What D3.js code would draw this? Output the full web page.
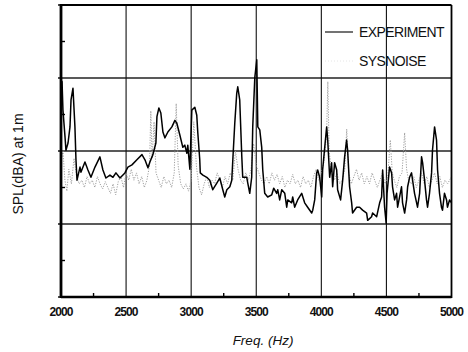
<!DOCTYPE html>
<html>
<head>
<meta charset="utf-8">
<script src="https://cdn.jsdelivr.net/npm/d3@7"></script>
<style>
  html, body { margin: 0; padding: 0; background: #fff; }
  svg { display: block; }
  text { font-family: "Liberation Sans", Arial, sans-serif; fill: #111; }
</style>
</head>
<body>
<div id="chart"></div>
<script>
// frequency ticks (Hz)
const xTicks = [2000, 2500, 3000, 3500, 4000, 4500, 5000];
const xMinorTicks = [2250, 2750, 3250, 3750, 4250, 4750];
// SPL levels (dBA) - the original has no labels on this axis
const yTicks = [20, 30, 40, 50, 60];
const yMinorTicks = [25, 35, 45, 55];

const seriesNames = ['EXPERIMENT', 'SYSNOISE'];

// measured spectrum [freq, dBA]
const experiment = [
  [2000, 49.7], [2008, 49.5], [2015, 45.6], [2031, 41.9], [2038, 40.1], [2054, 41.1],
  [2069, 43.3], [2077, 47.0], [2092, 48.6], [2107, 43.3], [2115, 38.8], [2123, 36.0],
  [2146, 37.8], [2153, 37.1], [2184, 38.5], [2207, 37.4], [2230, 36.4], [2261, 37.8],
  [2299, 39.2], [2322, 37.4], [2345, 36.3], [2376, 36.7], [2399, 36.4], [2422, 37.0],
  [2453, 36.3], [2491, 37.0], [2514, 37.8], [2545, 38.1], [2583, 38.8], [2622, 39.5],
  [2645, 38.8], [2668, 37.7], [2683, 38.5], [2706, 39.5], [2729, 41.1], [2737, 44.7],
  [2752, 45.9], [2767, 45.2], [2783, 42.6], [2798, 41.8], [2821, 42.6], [2852, 43.3],
  [2875, 44.2], [2890, 43.8], [2913, 42.2], [2936, 40.5], [2951, 40.8], [2967, 39.7],
  [2974, 40.8], [2990, 37.5], [3005, 45.6], [3028, 46.0], [3043, 44.9], [3051, 42.5],
  [3066, 38.8], [3070, 37.0], [3090, 36.7], [3120, 36.4], [3143, 36.0], [3166, 34.7],
  [3197, 35.6], [3220, 36.3], [3243, 34.7], [3258, 33.7], [3274, 34.7], [3297, 35.1],
  [3312, 36.0], [3320, 38.8], [3335, 43.8], [3350, 47.9], [3358, 48.8], [3373, 47.0],
  [3389, 39.2], [3396, 36.4], [3427, 36.4], [3435, 35.6], [3450, 34.2], [3465, 36.4],
  [3473, 43.3], [3489, 50.1], [3504, 52.5], [3512, 43.3], [3527, 42.9], [3542, 40.5],
  [3550, 37.4], [3565, 34.2], [3588, 33.7], [3619, 34.0], [3634, 34.9], [3657, 34.2],
  [3665, 34.7], [3680, 33.3], [3696, 34.7], [3719, 34.2], [3734, 32.3], [3742, 33.3],
  [3772, 32.9], [3780, 33.7], [3795, 32.3], [3818, 33.3], [3849, 34.2], [3872, 32.9],
  [3895, 32.3], [3926, 31.5], [3934, 31.9], [3949, 33.3], [3964, 37.0], [3972, 37.4],
  [3987, 36.4], [4003, 33.7], [4010, 37.4], [4026, 40.5], [4041, 43.3], [4049, 41.5],
  [4064, 36.4], [4079, 38.4], [4087, 35.1], [4102, 38.4], [4118, 37.4], [4125, 34.7],
  [4148, 33.3], [4164, 36.0], [4179, 39.2], [4194, 41.5], [4202, 40.1], [4217, 35.1],
  [4233, 32.9], [4240, 31.5], [4271, 32.3], [4294, 32.3], [4317, 31.9], [4348, 31.5],
  [4356, 30.5], [4386, 31.0], [4394, 31.5], [4425, 31.0], [4448, 32.9], [4463, 33.7],
  [4471, 37.4], [4486, 32.3], [4498, 30.1], [4505, 34.2], [4524, 37.8], [4540, 37.0],
  [4547, 35.1], [4563, 33.3], [4578, 34.2], [4586, 32.3], [4616, 35.1], [4624, 32.9],
  [4640, 31.5], [4655, 33.3], [4663, 35.1], [4678, 36.4], [4693, 37.0], [4701, 36.0],
  [4716, 34.2], [4732, 32.9], [4739, 32.3], [4755, 34.2], [4770, 39.2], [4778, 38.4],
  [4793, 36.0], [4808, 33.3], [4816, 32.3], [4831, 34.2], [4847, 37.0], [4854, 40.1],
  [4870, 43.3], [4885, 41.5], [4893, 37.4], [4908, 34.2], [4923, 32.3], [4931, 31.9],
  [4946, 34.2], [4962, 33.3], [4969, 32.3], [4985, 33.3], [5000, 32.9]
];

// predicted spectrum [freq, dBA]
const sysnoise = [
  [2000, 38.5], [2015, 40.0], [2030, 36.0], [2045, 34.5], [2060, 37.5], [2080, 35.5],
  [2100, 39.0], [2120, 36.5], [2140, 35.5], [2160, 36.0], [2180, 35.0], [2200, 36.5],
  [2220, 35.5], [2240, 36.0], [2260, 35.0], [2280, 36.5], [2300, 35.5], [2320, 34.8],
  [2340, 35.8], [2360, 35.0], [2380, 34.2], [2400, 35.5], [2420, 34.0], [2440, 35.8],
  [2460, 36.5], [2480, 35.0], [2500, 37.0], [2520, 36.0], [2540, 37.5], [2560, 36.0],
  [2580, 37.0], [2600, 35.5], [2620, 36.5], [2640, 35.0], [2660, 36.0], [2680, 38.0],
  [2690, 45.5], [2700, 39.0], [2715, 44.0], [2730, 37.0], [2750, 36.0], [2770, 35.0],
  [2790, 36.5], [2810, 35.5], [2830, 36.0], [2850, 35.0], [2870, 37.0], [2885, 46.5],
  [2900, 38.0], [2920, 35.5], [2940, 34.8], [2960, 35.5], [2980, 34.5], [3000, 36.0],
  [3020, 44.0], [3040, 38.0], [3060, 35.0], [3080, 34.0], [3100, 35.5], [3120, 36.5],
  [3140, 35.0], [3160, 36.0], [3180, 35.5], [3200, 37.0], [3220, 36.0], [3240, 35.0],
  [3260, 36.5], [3280, 35.5], [3300, 37.0], [3320, 36.0], [3340, 40.0], [3360, 37.5],
  [3380, 36.0], [3400, 35.5], [3420, 37.0], [3440, 36.0], [3460, 37.5], [3480, 41.0],
  [3500, 38.0], [3520, 37.0], [3540, 36.0], [3560, 35.5], [3580, 36.5], [3600, 35.5],
  [3620, 37.0], [3640, 36.0], [3660, 36.8], [3680, 35.5], [3700, 36.5], [3720, 35.0],
  [3740, 36.0], [3760, 35.5], [3780, 36.8], [3800, 35.5], [3820, 36.0], [3840, 35.0],
  [3860, 36.5], [3880, 35.5], [3900, 36.0], [3920, 35.0], [3940, 36.5], [3960, 37.5],
  [3980, 36.0], [4000, 37.0], [4020, 38.5], [4040, 42.0], [4050, 49.5], [4060, 40.0],
  [4080, 37.0], [4100, 36.0], [4120, 37.0], [4140, 35.5], [4160, 36.0], [4180, 37.5],
  [4195, 43.0], [4210, 37.0], [4230, 35.5], [4250, 36.5], [4270, 37.5], [4290, 36.0],
  [4310, 37.0], [4330, 35.5], [4350, 36.5], [4370, 35.5], [4390, 37.0], [4410, 36.0],
  [4430, 35.0], [4450, 36.0], [4470, 37.0], [4490, 35.5], [4510, 36.5], [4530, 41.5],
  [4545, 37.0], [4560, 36.0], [4580, 35.0], [4600, 36.5], [4620, 37.0], [4640, 42.5],
  [4655, 37.5], [4670, 36.0], [4690, 35.5], [4710, 36.5], [4730, 35.0], [4750, 36.0],
  [4770, 37.0], [4790, 35.5], [4810, 36.5], [4830, 35.0], [4850, 36.0], [4870, 37.0],
  [4890, 35.5], [4910, 36.5], [4930, 35.0], [4950, 36.0], [4970, 35.5], [5000, 36.5]
];

const width = 468, height = 352;
const margin = {top: 5, right: 16, bottom: 55, left: 61};

const svg = d3.select('#chart')
  .append('svg')
    .attr('width', width)
    .attr('height', height);

const x = d3.scaleLinear()
  .domain([2000, 5000])
  .range([margin.left, width - margin.right - 0.5]);

const y = d3.scaleLinear()
  .domain([20, 60])
  .range([height - margin.bottom, margin.top]);

// grid lines
svg.append('g')
  .attr('stroke', '#222')
  .attr('stroke-width', 1.4)
  .selectAll('line')
  .data(yTicks.slice(1, -1))
  .join('line')
    .attr('x1', x(2000)).attr('x2', x(5000))
    .attr('y1', d => y(d)).attr('y2', d => y(d));

svg.append('g')
  .attr('stroke', '#111')
  .attr('stroke-width', 1.1)
  .selectAll('line')
  .data(xTicks.slice(1, -1))
  .join('line')
    .attr('x1', d => x(d)).attr('x2', d => x(d))
    .attr('y1', y(20)).attr('y2', y(60));

const line = d3.line()
  .x(d => x(d[0]))
  .y(d => y(d[1]));

svg.append('path')
  .datum(sysnoise)
  .attr('fill', 'none')
  .attr('stroke', '#a0a0a0')
  .attr('stroke-width', 1)
  .attr('stroke-dasharray', '1.2,1.4')
  .attr('d', line);

svg.append('path')
  .datum(experiment)
  .attr('fill', 'none')
  .attr('stroke', '#000')
  .attr('stroke-width', 1.5)
  .attr('stroke-linejoin', 'round')
  .attr('d', line);

// frame
const frame = svg.append('g').attr('stroke', '#000').attr('fill', 'none');
frame.append('line')
  .attr('x1', x(2000)).attr('x2', x(2000))
  .attr('y1', y(60) - 1).attr('y2', y(20) + 1)
  .attr('stroke-width', 2.8);
frame.append('line')
  .attr('x1', x(2000)).attr('x2', x(5000))
  .attr('y1', y(20)).attr('y2', y(20))
  .attr('stroke-width', 2.4);
frame.append('line')
  .attr('x1', x(2000)).attr('x2', x(5000))
  .attr('y1', y(60)).attr('y2', y(60))
  .attr('stroke-width', 2.2);
frame.append('line')
  .attr('x1', x(5000)).attr('x2', x(5000))
  .attr('y1', y(60)).attr('y2', y(20) + 1)
  .attr('stroke-width', 1.8);

// minor ticks
frame.append('g')
  .attr('stroke-width', 1.4)
  .selectAll('line')
  .data(xMinorTicks)
  .join('line')
    .attr('x1', d => x(d)).attr('x2', d => x(d))
    .attr('y1', y(20)).attr('y2', y(20) - 4);

frame.append('g')
  .attr('stroke-width', 1.4)
  .selectAll('line')
  .data(yMinorTicks)
  .join('line')
    .attr('x1', x(2000)).attr('x2', x(2000) + 4)
    .attr('y1', d => y(d)).attr('y2', d => y(d));

frame.append('g')
  .attr('stroke-width', 1.4)
  .selectAll('line')
  .data(yTicks)
  .join('line')
    .attr('x1', x(2000) - 3).attr('x2', x(2000))
    .attr('y1', d => y(d)).attr('y2', d => y(d));

// x tick labels
svg.append('g')
  .selectAll('text')
  .data(xTicks)
  .join('text')
    .attr('x', d => x(d))
    .attr('y', y(20) + 19)
    .attr('text-anchor', 'middle')
    .attr('font-size', 12)
    .attr('font-weight', 'bold')
    .attr('letter-spacing', -0.9)
    .text(d => d);

// axis titles
svg.append('text')
  .attr('x', 263)
  .attr('y', 345)
  .attr('text-anchor', 'middle')
  .attr('font-size', 13.5)
  .attr('font-style', 'italic')
  .text('Freq. (Hz)');

svg.append('text')
  .attr('transform', 'translate(23,164) rotate(-90)')
  .attr('text-anchor', 'middle')
  .attr('font-size', 14)
  .text('SPL(dBA) at 1m');

// legend
const legend = svg.append('g');
legend.append('line')
  .attr('x1', 325).attr('x2', 353)
  .attr('y1', 32).attr('y2', 32)
  .attr('stroke', '#000')
  .attr('stroke-width', 1.1);
legend.append('line')
  .attr('x1', 325).attr('x2', 353)
  .attr('y1', 61).attr('y2', 61)
  .attr('stroke', '#e6e6e6')
  .attr('stroke-width', 1)
  .attr('stroke-dasharray', '1,2');
legend.selectAll('text')
  .data(seriesNames)
  .join('text')
    .attr('x', 359)
    .attr('y', (d, i) => 37 + i * 29)
    .attr('font-size', 14)
    .attr('letter-spacing', -0.6)
    .text(d => d);
</script>
</body>
</html>
